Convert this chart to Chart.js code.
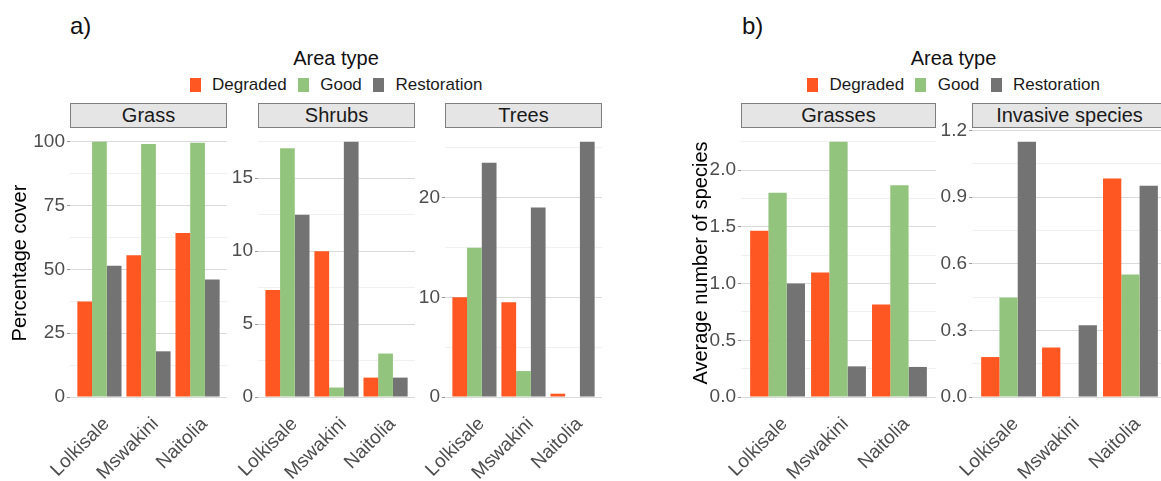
<!DOCTYPE html>
<html><head><meta charset="utf-8">
<script src="https://cdn.jsdelivr.net/npm/chart.js@4/dist/chart.umd.min.js"></script>
<style>
html,body{margin:0;padding:0;background:#fff;width:1161px;height:481px;overflow:hidden;font-family:"Liberation Sans",Arial,sans-serif;position:relative;}
canvas{position:absolute;}
.strip{position:absolute;box-sizing:border-box;height:25px;top:103px;background:#E5E5E5;border:1px solid #7F7F7F;color:#1A1A1A;font-size:20px;line-height:23px;text-align:center;white-space:nowrap;overflow:hidden;}
.tag{position:absolute;top:14px;font-size:24px;line-height:24px;color:#111;}
.ltitle{position:absolute;top:48px;width:400px;text-align:center;font-size:20px;line-height:20px;color:#111;}
.lrow{position:absolute;top:76px;width:400px;height:17px;display:flex;justify-content:center;align-items:center;font-size:17px;line-height:17px;color:#1A1A1A;white-space:nowrap;}
.key{width:11px;height:14px;margin-right:11.3px;flex:none;}
.lab{margin-right:11.3px;}
.lab:last-child{margin-right:0;}
</style></head><body>
<script>
// ---- data ----
const categories = ['Lolkisale', 'Mswakini', 'Naitolia'];
const areaTypes = ['Degraded', 'Good', 'Restoration'];

// panel a) percentage cover
const grassDegraded = [37.4, 55.5, 64.3];
const grassGood = [100.0, 99.1, 99.6];
const grassRestoration = [51.4, 17.9, 46.0];
const shrubsDegraded = [7.34, 10.0, 1.33];
const shrubsGood = [17.05, 0.65, 2.98];
const shrubsRestoration = [12.5, 17.5, 1.33];
const treesDegraded = [10.0, 9.5, 0.33];
const treesGood = [14.96, 2.6, 0];
const treesRestoration = [23.5, 19.0, 25.6];

// panel b) average number of species
const grassesDegraded = [1.465, 1.098, 0.815];
const grassesGood = [1.80, 2.25, 1.866];
const grassesRestoration = [1.0, 0.27, 0.265];
const invasiveDegraded = [0.18, 0.223, 0.985];
const invasiveGood = [0.448, null, 0.552];
const invasiveRestoration = [1.15, 0.323, 0.952];

// tick labels
const grassTicks = ['0', '25', '50', '75', '100'];
const shrubsTicks = ['0', '5', '10', '15'];
const treesTicks = ['0', '10', '20'];
const grassesTicks = ['0.0', '0.5', '1.0', '1.5', '2.0'];
const invasiveTicks = ['0.0', '0.3', '0.6', '0.9', '1.2'];

// ---- styles / layout ----
const FONT = '"Liberation Sans", Arial, sans-serif';
const areaColors = ['#FF5722', '#93C47D', '#737373'];

const panels = [
  {strip: 'Grass', left: 70, width: 157, axisW: 62, padLeft: 8, title: 'Percentage cover', series: [grassDegraded, grassGood, grassRestoration], ticks: grassTicks},
  {strip: 'Shrubs', left: 258, width: 157, axisW: 50, padLeft: 0, title: null, series: [shrubsDegraded, shrubsGood, shrubsRestoration], ticks: shrubsTicks},
  {strip: 'Trees', left: 445, width: 157, axisW: 50, padLeft: 0, title: null, series: [treesDegraded, treesGood, treesRestoration], ticks: treesTicks},
  {strip: 'Grasses', left: 741, width: 195, axisW: 52, padLeft: 9, title: 'Average number of species', series: [grassesDegraded, grassesGood, grassesRestoration], ticks: grassesTicks},
  {strip: 'Invasive species', left: 972, width: 195, axisW: 50, padLeft: 0, title: null, series: [invasiveDegraded, invasiveGood, invasiveRestoration], ticks: invasiveTicks}
];

function addDiv(cls, text, css) {
  const d = document.createElement('div');
  d.className = cls;
  if (text != null) d.textContent = text;
  Object.assign(d.style, css || {});
  document.body.appendChild(d);
  return d;
}

// panel tags and legends
addDiv('tag', 'a)', {left: '70px'});
addDiv('tag', 'b)', {left: '742px'});
[336, 953.5].forEach(cx => {
  addDiv('ltitle', 'Area type', {left: (cx - 200) + 'px'});
  const row = addDiv('lrow', null, {left: (cx - 200) + 'px'});
  areaTypes.forEach((name, k) => {
    const key = document.createElement('span');
    key.className = 'key';
    key.style.background = areaColors[k];
    row.appendChild(key);
    const lab = document.createElement('span');
    lab.className = 'lab';
    lab.textContent = name;
    row.appendChild(lab);
  });
});

const TOP = 95, H = 386, PAD_TOP = 34, PLOT_H = 268, PAD_RIGHT = 20;

panels.forEach(p => {
  addDiv('strip', p.strip, {left: p.left + 'px', width: p.width + 'px'});

  const cv = document.createElement('canvas');
  const W = p.padLeft + p.axisW + p.width + PAD_RIGHT;
  cv.width = W; cv.height = H;
  cv.style.left = (p.left - p.axisW - p.padLeft) + 'px';
  cv.style.top = TOP + 'px';
  cv.style.width = W + 'px'; cv.style.height = H + 'px';
  document.body.appendChild(cv);

  const vals = p.series.flat().filter(v => v != null);
  const yMax = Math.max(...vals) * 1.05;
  const majors = p.ticks.map(parseFloat);
  const step = majors[1] - majors[0];
  const tickVals = [];
  majors.forEach(m => {
    tickVals.push(m);
    if (m + step / 2 <= yMax) tickVals.push(m + step / 2);
  });
  const majorIndex = v => majors.findIndex(m => Math.abs(m - v) < 1e-9);
  const isMajor = c => c && c.tick && majorIndex(c.tick.value) >= 0;

  new Chart(cv, {
    type: 'bar',
    data: {
      datasets: areaTypes.map((name, k) => ({
        label: name,
        data: p.series[k].map((v, i) => ({x: i + 1, y: v})),
        backgroundColor: areaColors[k],
        borderWidth: 0,
        categoryPercentage: 0.9,
        barPercentage: 1.0
      }))
    },
    options: {
      responsive: false,
      animation: false,
      devicePixelRatio: 1,
      layout: {padding: {left: p.padLeft, right: PAD_RIGHT, top: PAD_TOP, bottom: 0}},
      plugins: {legend: {display: false}, tooltip: {enabled: false}},
      scales: {
        x: {
          type: 'linear', min: 0.4, max: 3.6, offset: false,
          afterBuildTicks: s => { s.ticks = categories.map((c, i) => ({value: i + 1})); },
          afterFit: s => { s.height = H - PAD_TOP - PLOT_H; },
          grid: {display: false, drawTicks: false, tickLength: 0},
          border: {display: false},
          ticks: {
            autoSkip: false, minRotation: 45, maxRotation: 45, padding: 16, labelOffset: 7,
            color: '#4D4D4D', font: {family: FONT, size: 19},
            callback: v => categories[Math.round(v) - 1] || ''
          }
        },
        y: {
          min: 0, max: yMax,
          afterBuildTicks: s => { s.ticks = tickVals.map(v => ({value: v})); },
          afterFit: s => { s.width = p.axisW; },
          grid: {
            color: c => isMajor(c) ? '#DADADA' : '#F0F0F0',
            lineWidth: 1, drawTicks: true, tickLength: 3,
            tickColor: c => isMajor(c) ? '#9A9A9A' : 'rgba(0,0,0,0)'
          },
          border: {display: false},
          ticks: {
            autoSkip: false, padding: 2, color: '#4D4D4D', font: {family: FONT, size: 19},
            callback: v => { const i = majorIndex(v); return i >= 0 ? p.ticks[i] : ''; }
          },
          title: p.title ? {display: true, text: p.title, color: '#000', font: {family: FONT, size: 20}, padding: 0} : {display: false}
        }
      }
    }
  });
});
</script>
</body></html>
